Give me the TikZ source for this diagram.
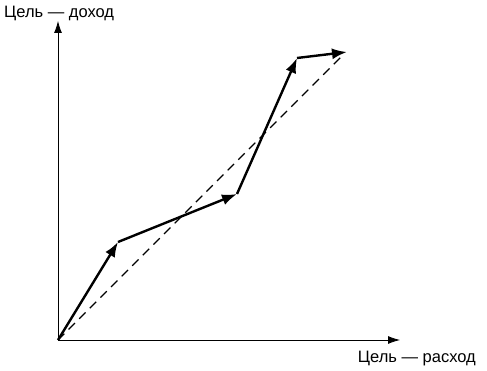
\documentclass[tikz,border=0pt]{standalone}
\usepackage{fontspec}
\setmainfont{Liberation Sans}
\usetikzlibrary{arrows.meta, positioning}

\begin{document}
\begin{tikzpicture}[x=1pt, y=-1pt, >=Latex,
  axis/.style={->, line width=0.8pt, >={Latex[length=12pt, width=8pt]}},
  path step/.style={->, line width=2.4pt, >={Latex[length=15pt, width=11pt]}},
  trend/.style={line width=1.1pt, dash pattern=on 9pt off 6pt},
  axlabel/.style={font=\fontsize{16.5}{18}\selectfont, inner sep=0pt}]
  \useasboundingbox (0,0) rectangle (487,371);

  % axes
  \coordinate (origin) at (58,340);
  \coordinate (ytop) at (58,21);
  \coordinate (xend) at (400,340);
  \draw[axis] (origin) -- (ytop);
  \draw[axis] (origin) -- (xend);
  \node[axlabel, anchor=west] (ylab) at (4,13) {Цель — доход};
  \node[axlabel, anchor=east] (xlab) at (476,359) {Цель — расход};

  % path of goals
  \coordinate (p1) at (118,242);
  \coordinate (p2) at (237,194);
  \coordinate (p3) at (297,58);
  \coordinate (p4) at (347,52);
  \draw[trend] (origin) -- (343,55);
  \draw[path step] (origin) -- (p1);
  \draw[path step] (p1) -- (p2);
  \draw[path step] (p2) -- (p3);
  \draw[path step] (p3) -- (p4);
\end{tikzpicture}
\end{document}
